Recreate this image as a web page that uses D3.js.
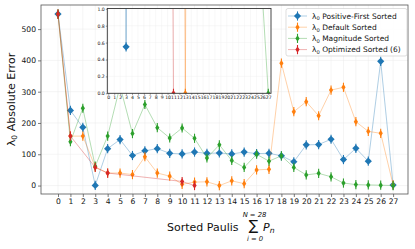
<!DOCTYPE html>
<html lang="en">
<head>
<meta charset="UTF-8">
<title>Lambda0 absolute error by sorted Paulis</title>
<style>
  body { margin: 0; background: #fff; }
  svg { display: block; font-family: "DejaVu Sans", sans-serif; }
</style>
</head>
<body>
<svg id="chart" width="415" height="249"></svg>
<script src="https://cdn.jsdelivr.net/npm/d3@7/dist/d3.min.js"></script>
<script>
// ---- data ----
const paulis = d3.range(28);
const xTicks = d3.range(28);
const yTicks = [0, 100, 200, 300, 400, 500];
const insetYTicks = [0, 0.2, 0.4, 0.6, 0.8, 1.0];

const positiveFirst = [548, 240, 186, 0.55, 118, 147, 96, 111, 118, 103, 101, 107, 103, 104,
                       101, 107, 102, 103, 95, 76, 130, 131, 148, 83, 119, 78, 397, 1.5];
const defaultSorted = [548, 158, 158, 59, 40, 40, 35, 92, 40, 30, 4, 11, 12, 0,
                       15, 6, 50, 52, 391, 236, 268, 223, 305, 314, 204, 173, 167, 2];
const magnitudeSorted = [548, 140, 247, 62, 158, 318, 166, 259, 185, 152, 184, 151, 88, 130,
                         80, 58, 100, 78, 95, 58, 34, 39, 28, 8, 3, 2, 1.16, 0];
const optimizedX = [0, 1, 3, 4, 10, 11];
const optimizedSorted = [548, 158, 58, 40, 13, 0];

const series = [
  { label: "Positive-First Sorted", color: "#1f77b4", xs: paulis, ys: positiveFirst, marker: "D" },
  { label: "Default Sorted", color: "#ff7f0e", xs: paulis, ys: defaultSorted, marker: "d" },
  { label: "Magnitude Sorted", color: "#2ca02c", xs: paulis, ys: magnitudeSorted, marker: "d" },
  { label: "Optimized Sorted (6)", color: "#d62728", xs: optimizedX, ys: optimizedSorted, marker: "d" }
];

// ---- layout ----
const svg = d3.select("#chart");
const plot = { left: 41, right: 408, top: 5, bottom: 194 };
const inset = { left: 107.3, right: 271, top: 8.5, bottom: 93.3 };

const x = d3.scaleLinear().domain([-1.37, 28.2]).range([plot.left, plot.right]);
const y = d3.scaleLinear().domain([-27, 577]).range([plot.bottom, plot.top]);
const xi = d3.scaleLinear().domain([-0.17, 27.46]).range([inset.left, inset.right]);
const yi = d3.scaleLinear().domain([0, 1]).range([inset.bottom, inset.top + 0.3]);

function diamond(kind, s) {
  // "D" = square diamond, "d" = thin diamond
  const hw = kind === "D" ? 3.6 * s : 2.1 * s, hh = kind === "D" ? 3.6 * s : 3.2 * s;
  return `M0,${-hh}L${hw},0L0,${hh}L${-hw},0Z`;
}

function drawSeries(g, sx, sy, scale) {
  series.forEach(s => {
    const pts = s.xs.map((v, i) => [v, s.ys[i]]);
    g.append("path")
      .attr("d", d3.line().x(d => sx(d[0])).y(d => sy(d[1]))(pts))
      .attr("fill", "none")
      .attr("stroke", s.color)
      .attr("stroke-opacity", 0.4)
      .attr("stroke-width", 0.9 * scale);
    const m = g.append("g").selectAll("g").data(pts).join("g")
      .attr("transform", d => `translate(${sx(d[0])},${sy(d[1])})`);
    m.append("line")
      .attr("y1", -4.6 * scale).attr("y2", 4.6 * scale)
      .attr("stroke", s.color).attr("stroke-width", 1.1 * scale);
    m.append("path").attr("d", diamond(s.marker, scale)).attr("fill", s.color);
  });
}

// ---- main axes ----
const grid = svg.append("g").attr("stroke", "#ebebeb").attr("stroke-width", 0.5);
grid.selectAll(".gx").data(xTicks).join("line")
  .attr("x1", d => x(d)).attr("x2", d => x(d)).attr("y1", plot.top).attr("y2", plot.bottom);
grid.selectAll(".gy").data(yTicks).join("line")
  .attr("y1", d => y(d)).attr("y2", d => y(d)).attr("x1", plot.left).attr("x2", plot.right);

drawSeries(svg.append("g"), x, y, 1);

const xAxis = svg.append("g").attr("transform", `translate(0,${plot.bottom})`)
  .call(d3.axisBottom(x).tickValues(xTicks).tickSize(3).tickPadding(2));
const yAxis = svg.append("g").attr("transform", `translate(${plot.left},0)`)
  .call(d3.axisLeft(y).tickValues(yTicks).tickSize(3).tickPadding(2));
[xAxis, yAxis].forEach(a => {
  a.select(".domain").remove();
  a.selectAll(".tick line").attr("stroke", "#444").attr("stroke-width", 0.7);
  a.selectAll("text").attr("font-size", 7.6).attr("fill", "#111")
    .attr("font-family", "DejaVu Sans, sans-serif");
});
svg.append("rect")
  .attr("x", plot.left).attr("y", plot.top)
  .attr("width", plot.right - plot.left).attr("height", plot.bottom - plot.top)
  .attr("fill", "none").attr("stroke", "#555").attr("stroke-width", 0.8);

// ---- inset ----
svg.append("clipPath").attr("id", "insetClip").append("rect")
  .attr("x", inset.left).attr("y", inset.top)
  .attr("width", inset.right - inset.left).attr("height", inset.bottom - inset.top);
svg.append("rect")
  .attr("x", inset.left).attr("y", inset.top)
  .attr("width", inset.right - inset.left).attr("height", inset.bottom - inset.top)
  .attr("fill", "#fff");
const ig = svg.append("g").attr("stroke", "#eeeeee").attr("stroke-width", 0.4);
ig.selectAll(".ix").data(xTicks).join("line")
  .attr("x1", d => xi(d)).attr("x2", d => xi(d)).attr("y1", inset.top).attr("y2", inset.bottom);
ig.selectAll(".iy").data(insetYTicks).join("line")
  .attr("y1", d => yi(d)).attr("y2", d => yi(d)).attr("x1", inset.left).attr("x2", inset.right);
drawSeries(svg.append("g").attr("clip-path", "url(#insetClip)"), xi, yi, 1);

const ixAxis = svg.append("g").attr("transform", `translate(0,${inset.bottom})`)
  .call(d3.axisBottom(xi).tickValues(xTicks).tickSize(1.5).tickPadding(1));
const iyAxis = svg.append("g").attr("transform", `translate(${inset.left},0)`)
  .call(d3.axisLeft(yi).tickValues(insetYTicks).tickFormat(d3.format(".1f")).tickSize(1.5).tickPadding(1));
[ixAxis, iyAxis].forEach(a => {
  a.select(".domain").remove();
  a.selectAll(".tick line").attr("stroke", "#333").attr("stroke-width", 0.5);
  a.selectAll("text").attr("font-size", 4.6).attr("fill", "#111")
    .attr("font-family", "DejaVu Sans, sans-serif");
});
svg.append("rect")
  .attr("x", inset.left).attr("y", inset.top)
  .attr("width", inset.right - inset.left).attr("height", inset.bottom - inset.top)
  .attr("fill", "none").attr("stroke", "#333").attr("stroke-width", 0.9);

// ---- legend ----
const lg = svg.append("g").attr("transform", "translate(286,8.5)");
lg.append("rect").attr("width", 121).attr("height", 47.5).attr("rx", 2)
  .attr("fill", "#fff").attr("fill-opacity", 0.85).attr("stroke", "#d0d0d0").attr("stroke-width", 0.7);
series.forEach((s, i) => {
  const row = lg.append("g").attr("transform", `translate(0,${7.5 + i * 11.2})`);
  row.append("line").attr("x1", 2).attr("x2", 21)
    .attr("stroke", s.color).attr("stroke-opacity", 0.4).attr("stroke-width", 0.9);
  const mk = row.append("g").attr("transform", "translate(11.5,0)");
  mk.append("line").attr("y1", -4.6).attr("y2", 4.6).attr("stroke", s.color).attr("stroke-width", 1.1);
  mk.append("path").attr("d", diamond(s.marker, 1)).attr("fill", s.color);
  const t = row.append("text").attr("x", 26).attr("y", 2.8).attr("font-size", 7.5).attr("fill", "#111");
  t.append("tspan").text("λ");
  t.append("tspan").attr("font-size", 5.2).attr("dy", 1.6).text("0");
  t.append("tspan").attr("dy", -1.6).text(" " + s.label);
});

// ---- axis titles ----
const yl = svg.append("text")
  .attr("transform", `translate(15,${(plot.top + plot.bottom) / 2}) rotate(-90)`)
  .attr("text-anchor", "middle").attr("font-size", 11).attr("fill", "#111");
yl.append("tspan").text("λ");
yl.append("tspan").attr("font-size", 7.7).attr("dy", 2.4).text("0");
yl.append("tspan").attr("dy", -2.4).text(" Absolute Error");

const xl = svg.append("g").attr("fill", "#111");
xl.append("text").attr("x", 167).attr("y", 231).attr("font-size", 11).text("Sorted Paulis");
xl.append("text").attr("x", 253.5).attr("y", 230).attr("text-anchor", "middle")
  .attr("font-size", 14).text("∑");
xl.append("text").attr("x", 254.5).attr("y", 216.5).attr("text-anchor", "middle")
  .attr("font-size", 6.8).attr("font-style", "italic").text("N = 28");
xl.append("text").attr("x", 255).attr("y", 240.5).attr("text-anchor", "middle")
  .attr("font-size", 6.8).attr("font-style", "italic").text("i = 0");
const pn = xl.append("text").attr("x", 263).attr("y", 231).attr("font-size", 11).attr("font-style", "italic");
pn.append("tspan").text("P");
pn.append("tspan").attr("font-size", 7.7).attr("dy", 2.4).text("n");
</script>
</body>
</html>
